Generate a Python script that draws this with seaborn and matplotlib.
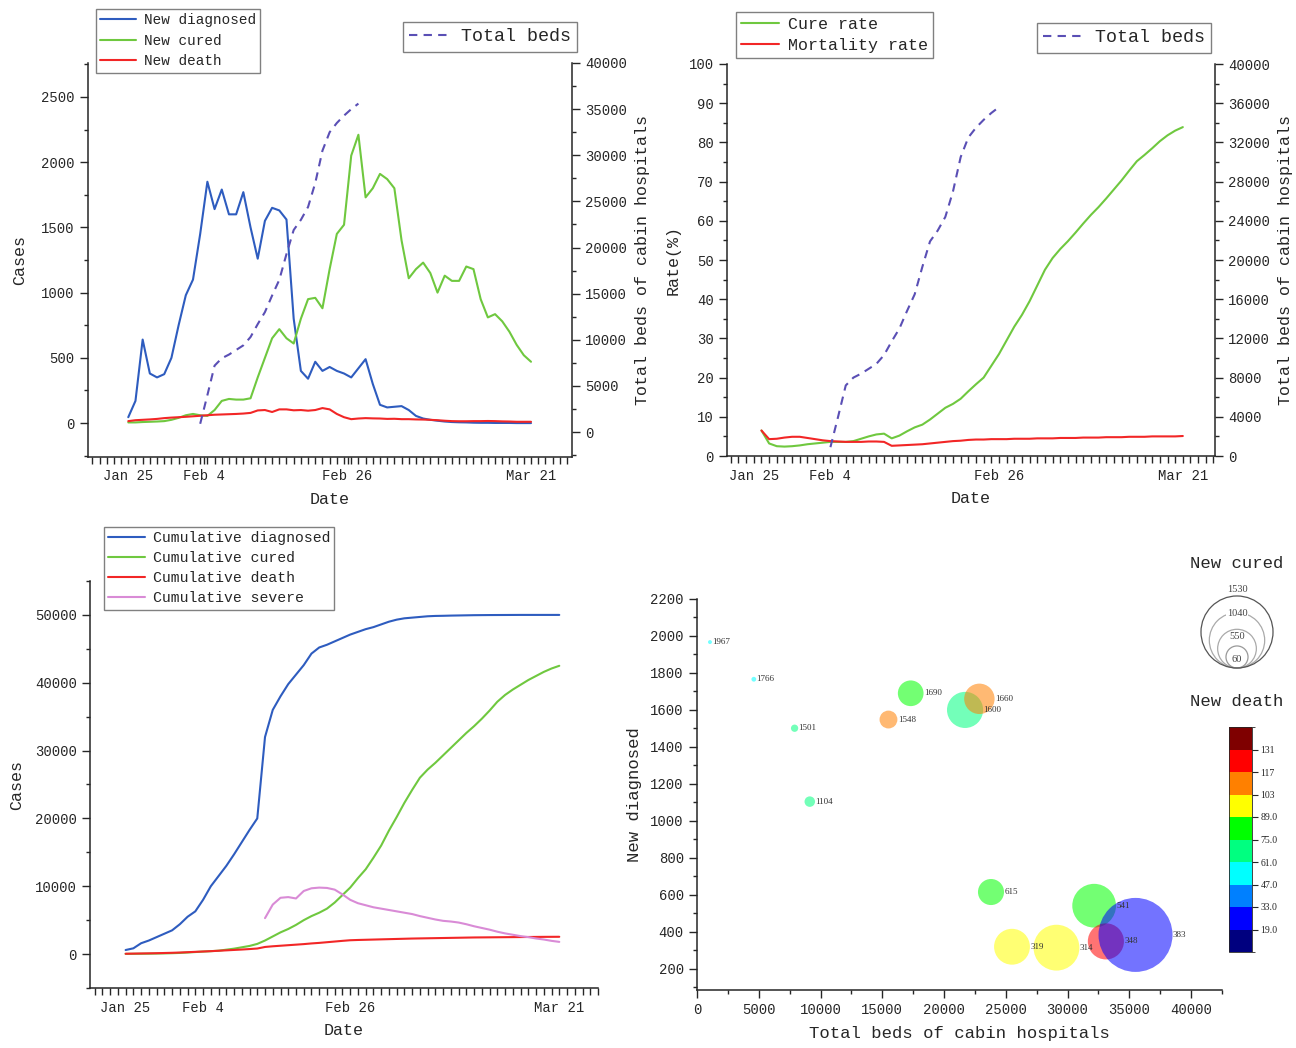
import numpy as np
import pandas as pd
import matplotlib
matplotlib.use("Agg")
import matplotlib.pyplot as plt
import seaborn as sns
from matplotlib.colors import ListedColormap, BoundaryNorm
from matplotlib.ticker import MultipleLocator, FixedLocator
from matplotlib.cm import ScalarMappable
from matplotlib.patches import Circle

# ---------------- data ----------------
days = list(range(57))  # day 0 = Jan 25 ... day 56 = Mar 21
date_labels = ["Jan 25", "Feb 4", "Feb 26", "Mar 21"]

new_diagnosed = [45, 170, 640, 380, 350, 375, 500, 750, 980, 1100, 1450, 1850, 1640, 1790, 1600,
                 1600, 1770, 1500, 1260, 1550, 1650, 1630, 1560, 800, 400, 340, 470, 400, 430, 400,
                 380, 350, 420, 490, 300, 140, 120, 125, 130, 100, 55, 35, 25, 18, 12, 8, 6, 5, 3,
                 2, 2, 1, 1, 1, 0, 0, 0]
new_cured = [5, 5, 8, 10, 12, 15, 25, 40, 60, 70, 60, 55, 100, 170, 185, 180, 180, 190, 350, 500,
             650, 720, 650, 610, 800, 950, 960, 880, 1180, 1450, 1520, 2050, 2210, 1730, 1800, 1910,
             1870, 1800, 1400, 1110, 1180, 1230, 1150, 1000, 1130, 1090, 1090, 1200, 1180, 950, 810,
             835, 780, 700, 600, 520, 470]
new_death = [15, 22, 25, 28, 32, 38, 42, 45, 48, 52, 56, 60, 64, 66, 68, 70, 73, 78, 97, 100, 85,
             105, 105, 98, 100, 95, 100, 115, 105, 70, 45, 30, 35, 38, 36, 35, 32, 33, 30, 30, 28,
             27, 25, 22, 18, 15, 14, 14, 15, 15, 16, 15, 13, 12, 10, 10, 10]

bed_days = list(range(10, 33))
total_beds = [900, 4000, 7200, 8000, 8400, 8900, 9400, 10300, 11700, 13000, 14800, 16500, 19300,
              21900, 23000, 24400, 27000, 30500, 32500, 33500, 34300, 35000, 35600]

rate_days = list(range(1, 57))
cure_rate = [6.5, 3.2, 2.5, 2.4, 2.5, 2.7, 3.0, 3.2, 3.4, 3.6, 3.6, 3.6, 3.8, 4.4, 5.0, 5.5, 5.7,
             4.5, 5.2, 6.3, 7.3, 8.0, 9.3, 10.8, 12.3, 13.3, 14.6, 16.5, 18.3, 20.0, 23.0, 26.0,
             29.5, 33.0, 36.0, 39.5, 43.5, 47.5, 50.5, 52.8, 54.8, 57.0, 59.3, 61.5, 63.5, 65.7,
             68.0, 70.3, 72.8, 75.2, 76.8, 78.5, 80.3, 81.8, 83.0, 83.9]
mortality_rate = [6.5, 4.3, 4.4, 4.7, 4.9, 4.9, 4.6, 4.3, 4.0, 3.8, 3.7, 3.6, 3.6, 3.6, 3.7, 3.7,
                  3.6, 2.6, 2.7, 2.8, 2.9, 3.0, 3.2, 3.4, 3.6, 3.8, 3.9, 4.1, 4.2, 4.2, 4.3, 4.3,
                  4.3, 4.4, 4.4, 4.4, 4.5, 4.5, 4.5, 4.6, 4.6, 4.6, 4.7, 4.7, 4.7, 4.8, 4.8, 4.8,
                  4.9, 4.9, 4.9, 5.0, 5.0, 5.0, 5.0, 5.1]

cum_diagnosed = [600, 850, 1600, 2000, 2500, 3000, 3500, 4400, 5500, 6300, 8000, 10000, 11500,
                 13000, 14700, 16500, 18300, 20000, 32000, 36000, 38000, 39800, 41200, 42600,
                 44300, 45200, 45600, 46100, 46600, 47100, 47500, 47900, 48200, 48600, 49000,
                 49300, 49500, 49600, 49700, 49800, 49850, 49870, 49900, 49920, 49940, 49960,
                 49970, 49980, 49985, 49990, 49995, 50000, 50000, 50000, 50000, 50000, 50000]
cum_cured = [30, 40, 50, 60, 80, 100, 130, 170, 230, 300, 370, 430, 500, 650, 800, 1000, 1200,
             1500, 2000, 2600, 3200, 3700, 4300, 5000, 5600, 6100, 6700, 7600, 8700, 9800, 11200,
             12500, 14200, 16000, 18200, 20200, 22300, 24200, 26000, 27200, 28200, 29300, 30400,
             31500, 32600, 33600, 34700, 35900, 37200, 38200, 39000, 39700, 40400, 41000, 41600,
             42100, 42500]
cum_death = [50, 70, 90, 110, 130, 160, 190, 230, 280, 330, 380, 430, 490, 550, 610, 670, 740, 820,
             1050, 1150, 1230, 1310, 1390, 1470, 1570, 1650, 1750, 1850, 1950, 2040, 2080, 2110,
             2140, 2170, 2200, 2230, 2260, 2290, 2310, 2330, 2350, 2370, 2390, 2410, 2430, 2450,
             2460, 2470, 2480, 2490, 2500, 2510, 2520, 2530, 2540, 2545, 2550]
severe_days = list(range(18, 57))
cum_severe = [5300, 7300, 8300, 8400, 8200, 9300, 9700, 9800, 9750, 9500, 8800, 8000, 7500, 7200,
              6900, 6700, 6500, 6300, 6100, 5900, 5600, 5350, 5100, 4900, 4800, 4650, 4400, 4100,
              3850, 3600, 3300, 3050, 2850, 2650, 2500, 2300, 2150, 1950, 1800]

bubble_beds = [1050, 4600, 7900, 9130, 15500, 17300, 21700, 22860, 23800, 25500, 29100, 32150,
               33100, 35500]
bubble_diagnosed = [1967, 1766, 1501, 1104, 1548, 1690, 1600, 1660, 615, 319, 314, 541, 348, 383]
bubble_cured = [60, 62, 70, 85, 140, 230, 400, 300, 235, 395, 610, 560, 400, 1500]
bubble_death = [52, 55, 64, 66, 108, 81, 70, 110, 84, 96, 92, 77, 121, 25]

size_legend_values = [60, 550, 1040, 1530]
death_bounds = [5, 19, 33, 47, 61, 75, 89, 103, 117, 131, 145]
death_colors = ["#00007F", "#0000FF", "#0080FF", "#00FFFF", "#00FF80", "#00FF00",
                "#FFFF00", "#FF8000", "#FF0000", "#7F0000"]
death_tick_labels = ["19.0", "33.0", "47.0", "61.0", "75.0", "89.0", "103", "117", "131"]

# ---------------- style ----------------
sns.set_style("ticks")
FONT = ["Liberation Mono", "DejaVu Sans Mono", "DejaVu Sans"]
plt.rcParams["font.family"] = FONT
plt.rcParams["axes.linewidth"] = 1.1
plt.rcParams["xtick.direction"] = "out"
plt.rcParams["ytick.direction"] = "out"
plt.rcParams["lines.solid_joinstyle"] = "round"
plt.rcParams["lines.dash_joinstyle"] = "round"

C_BLUE = "#2E5CBF"
C_GREEN = "#6FC83F"
C_RED = "#F22626"
C_PINK = "#D98BD6"
C_DASH = "#5A4FB5"
LW = 1.5

W, H = 1296, 1048
fig = plt.figure(figsize=(W / 100, H / 100), dpi=100)


def fax(x0, y0, x1, y1):
    return fig.add_axes([x0 / W, 1 - y1 / H, (x1 - x0) / W, (y1 - y0) / H])


def style_axis(ax, ymajor, yminor, tick_pos, xlim):
    ax.set_xlim(*xlim)
    ax.xaxis.set_major_locator(FixedLocator(tick_pos))
    ax.set_xticklabels(date_labels)
    ax.xaxis.set_minor_locator(FixedLocator(np.arange(np.ceil(xlim[0]), xlim[1] + 0.01, 1)))
    ax.yaxis.set_major_locator(MultipleLocator(ymajor))
    ax.yaxis.set_minor_locator(MultipleLocator(yminor))
    ax.tick_params(axis="x", which="both", length=5, width=1.0, labelsize=10, pad=4)
    ax.tick_params(axis="y", which="major", length=6, width=1.0, labelsize=10)
    ax.tick_params(axis="y", which="minor", length=3, width=1.0)
    ax.spines["top"].set_visible(False)
    ax.spines["right"].set_visible(False)
    ax.set_xlabel("Date", fontsize=12, labelpad=6)


def legend_at(handles, labels, x, y, loc, fs, hl=2.5, ls=0.35, bp=0.3):
    fig.legend(handles, labels, loc=loc, bbox_to_anchor=(x / W, 1 - y / H),
               fontsize=fs, frameon=True, fancybox=False, edgecolor="#808080",
               framealpha=1, borderaxespad=0, borderpad=bp, labelspacing=ls,
               handlelength=hl, handletextpad=0.5)

# ---------------- top-left ----------------
ax1 = fax(88, 63, 572, 457)
sns.lineplot(x=days, y=new_diagnosed, ax=ax1, color=C_BLUE, lw=LW, label="New diagnosed", legend=False)
sns.lineplot(x=days, y=new_cured, ax=ax1, color=C_GREEN, lw=LW, label="New cured", legend=False)
sns.lineplot(x=days, y=new_death, ax=ax1, color=C_RED, lw=LW, label="New death", legend=False)
ax1.set_ylim(-260, 2760)
style_axis(ax1, 500, 250, [0, 10.5, 30.5, 56], (-5.6, 61.7))
ax1.set_ylabel("Cases", fontsize=12, labelpad=10)
ax1b = ax1.twinx()
sns.lineplot(x=bed_days, y=total_beds, ax=ax1b, color=C_DASH, lw=LW, linestyle=(0, (4, 3)),
             label="Total beds", legend=False)
ax1b.set_ylim(-2700, 40000)
ax1b.yaxis.set_major_locator(MultipleLocator(5000))
ax1b.yaxis.set_minor_locator(MultipleLocator(2500))
ax1b.tick_params(axis="y", which="major", length=6, width=1.0, labelsize=10)
ax1b.tick_params(axis="y", which="minor", length=3, width=1.0)
for s in ["top", "left", "bottom"]:
    ax1b.spines[s].set_visible(False)
ax1b.set_ylabel("Total beds of cabin hospitals", fontsize=12, labelpad=6)
h, l = ax1.get_legend_handles_labels()
legend_at(h, l, 96, 9, "upper left", 10.4, ls=0.45)
h, l = ax1b.get_legend_handles_labels()
legend_at(h, l, 577, 22, "upper right", 13.2, hl=2.3, bp=0.35)

# ---------------- top-right ----------------
ax2 = fax(727, 64, 1215, 456)
sns.lineplot(x=rate_days, y=cure_rate, ax=ax2, color=C_GREEN, lw=LW, label="Cure rate", legend=False)
sns.lineplot(x=rate_days, y=mortality_rate, ax=ax2, color=C_RED, lw=LW, label="Mortality rate", legend=False)
ax2.set_ylim(0, 100)
style_axis(ax2, 10, 5, [0, 10, 32, 56], (-3.5, 60.2))
ax2.set_ylabel("Rate(%)", fontsize=12, labelpad=6)
ax2b = ax2.twinx()
sns.lineplot(x=bed_days, y=total_beds, ax=ax2b, color=C_DASH, lw=LW, linestyle=(0, (4, 3)),
             label="Total beds", legend=False)
ax2b.set_ylim(0, 40000)
ax2b.yaxis.set_major_locator(MultipleLocator(4000))
ax2b.yaxis.set_minor_locator(MultipleLocator(2000))
ax2b.tick_params(axis="y", which="major", length=6, width=1.0, labelsize=10)
ax2b.tick_params(axis="y", which="minor", length=3, width=1.0)
for s in ["top", "left", "bottom"]:
    ax2b.spines[s].set_visible(False)
ax2b.set_ylabel("Total beds of cabin hospitals", fontsize=12, labelpad=6)
h, l = ax2.get_legend_handles_labels()
legend_at(h, l, 736, 12, "upper left", 12, hl=2.3, ls=0.35)
h, l = ax2b.get_legend_handles_labels()
legend_at(h, l, 1211, 23, "upper right", 13.2, hl=2.3, bp=0.35)

# ---------------- bottom-left ----------------
ax3 = fax(90, 581, 598, 988)
sns.lineplot(x=days, y=cum_diagnosed, ax=ax3, color=C_BLUE, lw=LW, label="Cumulative diagnosed", legend=False)
sns.lineplot(x=days, y=cum_cured, ax=ax3, color=C_GREEN, lw=LW, label="Cumulative cured", legend=False)
sns.lineplot(x=days, y=cum_death, ax=ax3, color=C_RED, lw=LW, label="Cumulative death", legend=False)
sns.lineplot(x=severe_days, y=cum_severe, ax=ax3, color=C_PINK, lw=LW, label="Cumulative severe", legend=False)
ax3.set_ylim(-5000, 55000)
style_axis(ax3, 10000, 5000, [0, 10, 29, 56], (-4.6, 61))
ax3.set_ylabel("Cases", fontsize=12, labelpad=8)
h, l = ax3.get_legend_handles_labels()
legend_at(h, l, 104, 527, "upper left", 10.6, ls=0.4)

# ---------------- bottom-right ----------------
ax4 = fax(697, 599, 1222, 990)
cmap = ListedColormap(death_colors)
norm = BoundaryNorm(death_bounds, cmap.N)
bub = pd.DataFrame({"beds": bubble_beds, "diag": bubble_diagnosed,
                    "cured": bubble_cured, "death": bubble_death})
SMIN, SMAX, VMIN, VMAX = 8, 2840, 60, 1500
sns.scatterplot(data=bub, x="beds", y="diag", size="cured", sizes=(SMIN, SMAX),
                size_norm=(VMIN, VMAX), hue="death", palette=cmap, hue_norm=norm,
                alpha=0.55, linewidth=0, legend=False, ax=ax4)
for b, d, c in zip(bubble_beds, bubble_diagnosed, bubble_cured):
    s = SMIN + (c - VMIN) / (VMAX - VMIN) * (SMAX - SMIN)
    r = np.sqrt(s) / 2
    ax4.annotate(str(d), (b, d), xytext=(r + 0.3, 0), textcoords="offset points",
                 va="center", ha="left", fontsize=6.5, family="Liberation Serif", color="#333333")
ax4.set_xlim(0, 42500)
ax4.set_ylim(85, 2200)
ax4.xaxis.set_major_locator(MultipleLocator(5000))
ax4.xaxis.set_minor_locator(MultipleLocator(2500))
ax4.yaxis.set_major_locator(FixedLocator(np.arange(200, 2201, 200)))
ax4.yaxis.set_minor_locator(FixedLocator(np.arange(100, 2201, 100)))
ax4.tick_params(which="major", length=6, width=1.0, labelsize=10)
ax4.tick_params(which="minor", length=3, width=1.0)
ax4.spines["top"].set_visible(False)
ax4.spines["right"].set_visible(False)
ax4.set_xlabel("Total beds of cabin hospitals", fontsize=12.4, labelpad=6)
ax4.set_ylabel("New diagnosed", fontsize=12.4, labelpad=6)

# colorbar
cax = fax(1229, 727, 1252, 952)
cb = fig.colorbar(ScalarMappable(norm=norm, cmap=cmap), cax=cax, ticks=death_bounds[1:-1])
cb.ax.set_yticklabels(death_tick_labels)
cb.ax.tick_params(length=4, width=0.8, labelsize=7, pad=2)
cb.outline.set_linewidth(0.6)
for t in cb.ax.get_yticklabels():
    t.set_family("Liberation Serif")

fig.text(1237 / W, 1 - 563 / H, "New cured", ha="center", va="center", fontsize=12.4)
fig.text(1237 / W, 1 - 701 / H, "New death", ha="center", va="center", fontsize=12.4)

# size legend (pixel-based inset)
lax = fax(1187, 578, 1287, 670)
lax.set_xlim(-50, 50)
lax.set_ylim(-2, 90)
lax.axis("off")
edge_cols = ["#999999", "#aaaaaa", "#aaaaaa", "#555555"]
for i, v in enumerate(size_legend_values):
    r = 10 + 0.0170 * v
    lax.add_patch(Circle((0, r), r, fill=False, ec=edge_cols[i], lw=0.9))
    lax.text(0, 8 + i * 23.5, str(v), ha="center", va="center", fontsize=7.5,
             family="Liberation Serif", color="#444444",
             bbox=dict(fc="white", ec="none", pad=0.3))

fig.savefig("out.png", dpi=100)
